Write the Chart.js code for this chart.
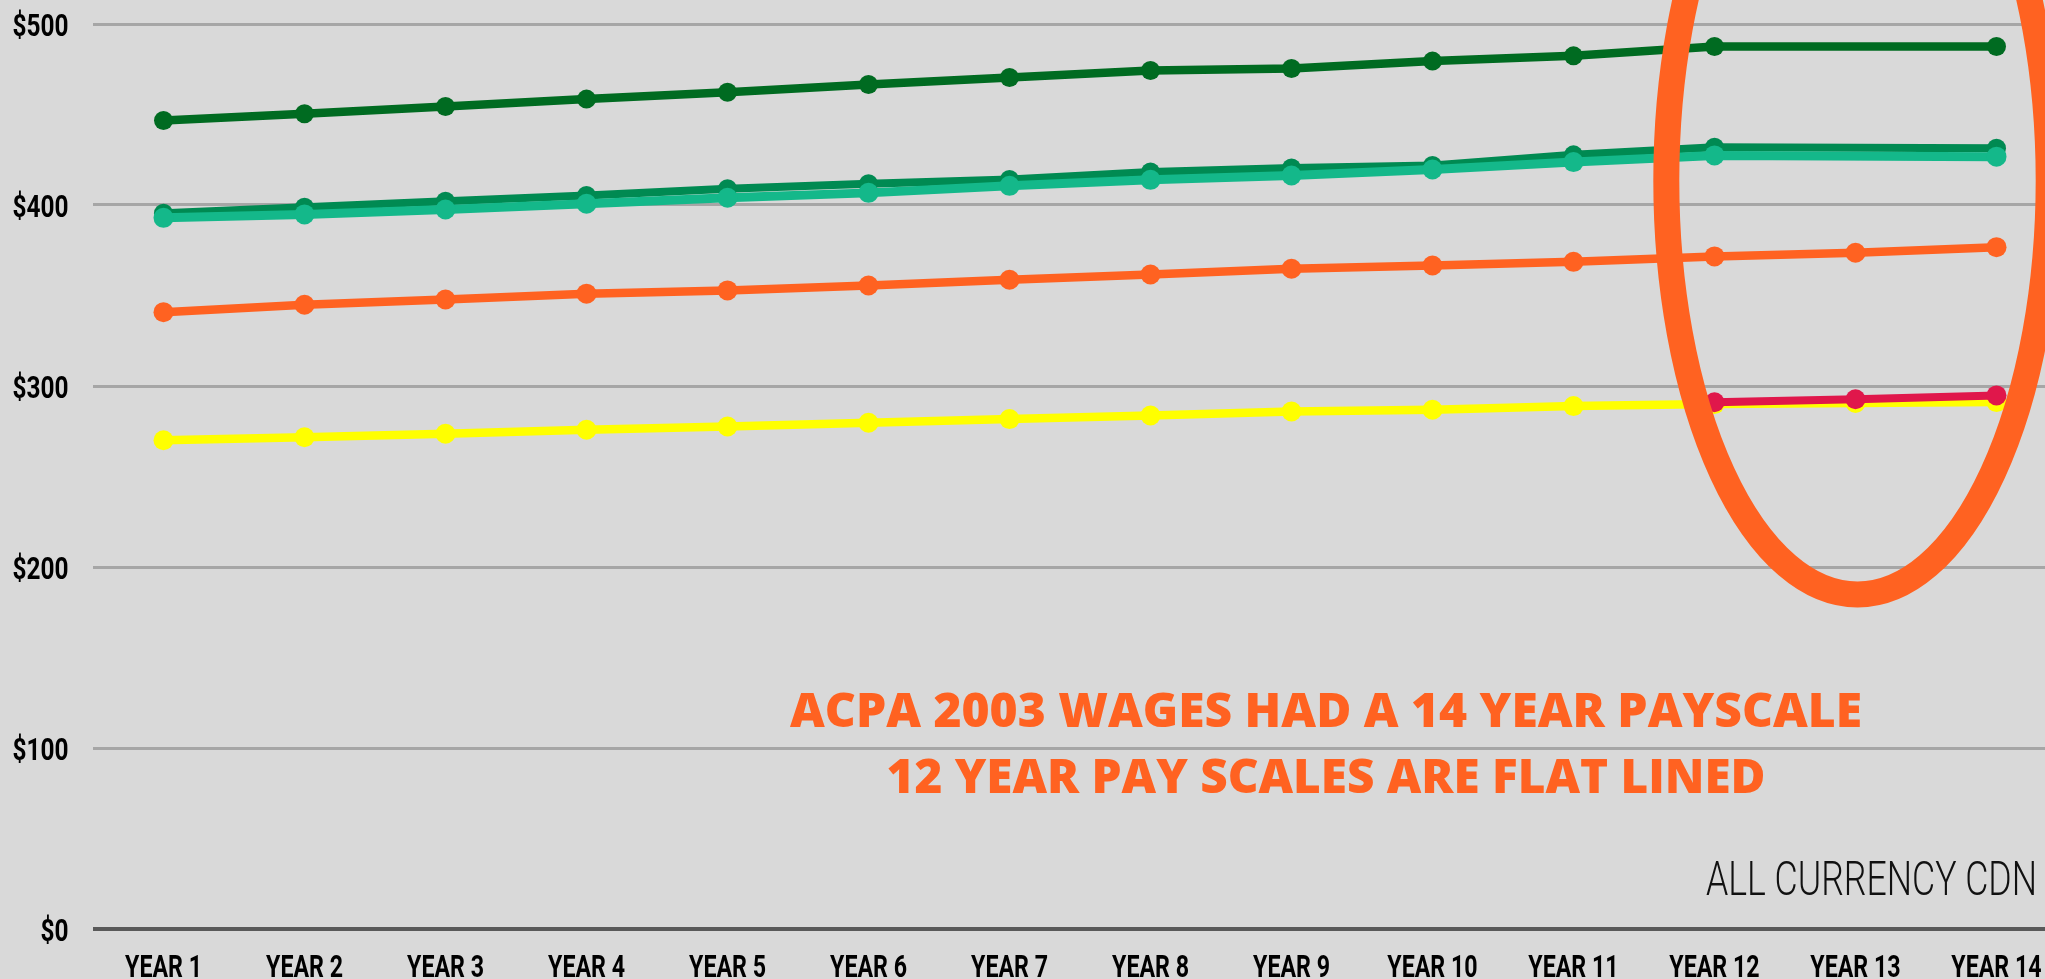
<!DOCTYPE html>
<html>
<head>
<meta charset="utf-8">
<script src="https://cdn.jsdelivr.net/npm/chart.js@4"></script>
<style>
    html, body { margin: 0; padding: 0; background: #d9d9d9; overflow: hidden; }
    #wrap { width: 2077px; height: 979px; }
</style>
</head>
<body>
<div id="wrap"><canvas id="wageChart" width="2077" height="979"></canvas></div>
<script>
// ACPA 2003 wage scales, weekly CDN

const years = ['YEAR 1', 'YEAR 2', 'YEAR 3', 'YEAR 4', 'YEAR 5', 'YEAR 6', 'YEAR 7',
    'YEAR 8', 'YEAR 9', 'YEAR 10', 'YEAR 11', 'YEAR 12', 'YEAR 13', 'YEAR 14'];
const yTicks = [0, 100, 200, 300, 400, 500];

const darkGreenWages = [446.7, 450.4, 454.4, 458.5, 462.3, 466.6, 470.4, 474.3, 475.4, 479.5, 482.4, 487.6, null, 487.6];
const tealWages = [392.9, 394.8, 397.5, 400.7, 404.0, 406.7, 410.6, 413.9, 416.3, 419.6, 423.7, 427.4, null, 426.7];
const greenWages = [395.5, 398.8, 402.1, 405.3, 409.0, 411.7, 414.1, 418.3, 420.5, 421.8, 427.7, 431.9, null, 431.4];
const orangeWages = [340.8, 344.9, 347.8, 351.0, 352.8, 355.5, 358.7, 361.6, 364.8, 366.6, 368.6, 371.6, 373.6, 376.7];
const redWages = [null, null, null, null, null, null, null, null, null, null, null, 291.0, 292.7, 294.8];
const yellowWages = [270.0, 271.7, 273.6, 275.8, 277.6, 279.7, 281.7, 283.7, 285.9, 286.9, 288.9, 290.0, 290.6, 291.1];

const noteLines = ['ACPA 2003 WAGES HAD A 14 YEAR PAYSCALE', '12 YEAR PAY SCALES ARE FLAT LINED'];
const currencyNote = 'ALL CURRENCY CDN';

const ORANGE = '#ff6221';
const tickFont = "bold 32px 'Roboto', 'DejaVu Sans', sans-serif";

function line(data, color, width, radius) {
    return {
        data: data,
        borderColor: color,
        backgroundColor: color,
        pointBackgroundColor: color,
        pointBorderWidth: 0,
        pointRadius: radius,
        borderWidth: width,
        tension: 0,
        spanGaps: true
    };
}

// draws text squeezed horizontally by factor sx
function drawText(ctx, text, x, baseline, font, sx, color, align) {
    ctx.save();
    ctx.font = font;
    ctx.translate(x, baseline);
    ctx.scale(sx, 1);
    ctx.fillStyle = color;
    ctx.textAlign = align;
    ctx.textBaseline = 'alphabetic';
    ctx.fillText(text, 0, 0);
    ctx.restore();
}

function squeezeFor(ctx, sample, font, width) {
    ctx.save();
    ctx.font = font;
    const w = ctx.measureText(sample).width;
    ctx.restore();
    return width / w;
}

// condensed tick labels, drawn by hand since no condensed font is around
const tickLabels = {
    id: 'tickLabels',
    afterDraw(chart) {
        const ctx = chart.ctx;
        const x = chart.scales.x;
        const y = chart.scales.y;

        const ySq = squeezeFor(ctx, '$400', tickFont, 56);
        yTicks.forEach(v => {
            drawText(ctx, '$' + v, 68.5, y.getPixelForValue(v) + 11.5, tickFont, ySq, '#000', 'right');
        });

        const xSq = squeezeFor(ctx, 'YEAR 1', tickFont, 77);
        years.forEach((label, i) => {
            drawText(ctx, label, x.getPixelForValue(i), 977, tickFont, xSq, '#000', 'center');
        });
    }
};

const annotations = {
    id: 'annotations',
    afterDatasetsDraw(chart) {
        const ctx = chart.ctx;
        const x = chart.scales.x;
        const y = chart.scales.y;

        // ring around the last years
        const cx = x.getPixelForValue(12) + 2;
        const cy = y.getPixelForValue(413.5);
        const step = x.getPixelForValue(1) - x.getPixelForValue(0);
        const rx = step * 1.356;
        const ry = y.getPixelForValue(413.5 - 228.7) - cy;
        ctx.save();
        ctx.beginPath();
        ctx.ellipse(cx, cy, rx, ry, 0, 0, Math.PI * 2);
        ctx.strokeStyle = ORANGE;
        ctx.lineWidth = 26;
        ctx.stroke();
        ctx.restore();

        const noteFont = "800 48px 'Open Sans', 'Roboto', sans-serif";
        drawText(ctx, noteLines[0], 1326, 727, noteFont, squeezeFor(ctx, noteLines[0], noteFont, 1072), ORANGE, 'center');
        drawText(ctx, noteLines[1], 1326, 793, noteFont, squeezeFor(ctx, noteLines[1], noteFont, 879), ORANGE, 'center');

        const cdnFont = "300 49px 'Roboto', 'Lato', sans-serif";
        drawText(ctx, currencyNote, 2037, 895, cdnFont, squeezeFor(ctx, currencyNote, cdnFont, 331), '#111', 'right');
    }
};

const ctx = document.getElementById('wageChart').getContext('2d');

new Chart(ctx, {
    type: 'line',
    data: {
        labels: years,
        datasets: [
            line(darkGreenWages, '#006b21', 8.5, 9.5),
            line(tealWages, '#14b88a', 9, 10),
            line(greenWages, '#008a52', 8, 9.5),
            line(orangeWages, ORANGE, 8.5, 10),
            line(redWages, '#e0174b', 8, 10),
            line(yellowWages, '#ffff00', 8.5, 10)
        ]
    },
    options: {
        responsive: false,
        animation: false,
        layout: { padding: { top: 24, left: 0, right: 0, bottom: 0 } },
        plugins: {
            legend: { display: false },
            tooltip: { enabled: false }
        },
        scales: {
            x: {
                offset: true,
                grid: { display: false, drawTicks: false },
                border: { display: false },
                ticks: { display: false, autoSkip: false },
                afterFit(scale) { scale.height = 50; }
            },
            y: {
                min: 0,
                max: 500,
                afterBuildTicks(scale) {
                    scale.ticks = yTicks.map(v => ({ value: v }));
                },
                grid: {
                    drawTicks: false,
                    color: c => c.tick && c.tick.value === 0 ? '#595959' : '#a6a6a6',
                    lineWidth: c => c.tick && c.tick.value === 0 ? 4 : 3
                },
                border: { display: false },
                ticks: { display: false },
                afterFit(scale) { scale.width = 93; }
            }
        }
    },
    plugins: [annotations, tickLabels]
});
</script>
</body>
</html>
